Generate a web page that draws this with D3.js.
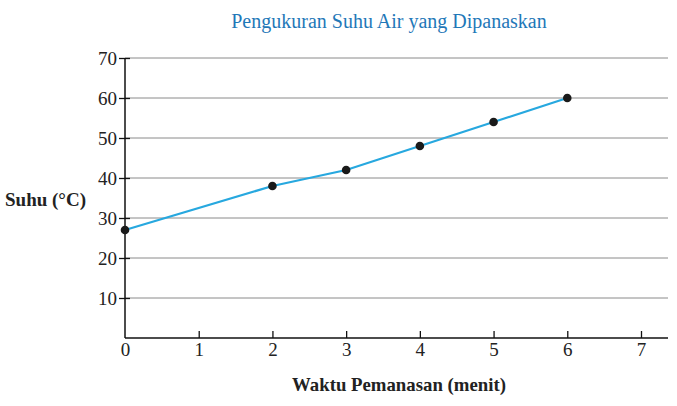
<!DOCTYPE html>
<html><head><meta charset="utf-8">
<script src="https://cdn.jsdelivr.net/npm/d3@7"></script>
<style>body{margin:0;background:#fff}svg{display:block}
svg text{font-family:"Liberation Serif","DejaVu Serif",serif}</style>
</head><body>
<svg id="c" width="677" height="406"></svg>
<script>
const times = [0, 2, 3, 4, 5, 6];
const temps = [27, 38, 42, 48, 54, 60];
const xTicks = [0, 1, 2, 3, 4, 5, 6, 7];
const yTicks = [10, 20, 30, 40, 50, 60, 70];

const svg = d3.select("#c");
const x = d3.scaleLinear().domain([0, 7]).range([125, 641]);
const y = d3.scaleLinear().domain([0, 70]).range([338, 58]);

// gridlines
svg.append("g").selectAll("line").data(yTicks).join("line")
  .attr("x1", 125).attr("x2", 668)
  .attr("y1", d => y(d)).attr("y2", d => y(d))
  .attr("stroke", "#8a8a8a").attr("stroke-width", 1);

// y axis
const ya = svg.append("g").attr("transform", "translate(125,0)")
  .call(d3.axisLeft(y).tickValues(yTicks).tickFormat(d3.format("d")).tickSize(7).tickPadding(4));
ya.attr("font-family", null).attr("font-size", null);
ya.select(".domain").attr("d", `M0,${y(70)}V${y(0)}`).attr("stroke", "#111").attr("stroke-width", 1.5);
ya.selectAll(".tick line").attr("x2", 5).attr("x1", -6).attr("stroke", "#111").attr("stroke-width", 1.3);
ya.selectAll(".tick text").style("font-size", "19px").attr("fill", "#222").attr("x", -8);

// x axis
const xa = svg.append("g").attr("transform", `translate(0,${y(0)})`)
  .call(d3.axisBottom(x).tickValues(xTicks).tickFormat(d3.format("d")).tickSize(0).tickPadding(5));
xa.attr("font-family", null).attr("font-size", null);
xa.select(".domain").attr("d", `M125,0H668`).attr("stroke", "#111").attr("stroke-width", 1.5);
xa.selectAll(".tick line").attr("y1", -7).attr("y2", 0).attr("stroke", "#111").attr("stroke-width", 1.3)
  .filter(d => d === 0).remove();
xa.selectAll(".tick text").style("font-size", "19px").attr("fill", "#222");

// line
const pts = times.map((t, i) => [t, temps[i]]);
svg.append("path").datum(pts)
  .attr("d", d3.line().x(d => x(d[0])).y(d => y(d[1])))
  .attr("fill", "none").attr("stroke", "#27a8df").attr("stroke-width", 2.2);

svg.append("g").selectAll("circle").data(pts).join("circle")
  .attr("cx", d => x(d[0])).attr("cy", d => y(d[1])).attr("r", 4.3)
  .attr("fill", "#1a1a1a");

// title and labels
svg.append("text").attr("x", 389).attr("y", 28).attr("text-anchor", "middle")
  .style("font-size", "20px").attr("fill", "#1f78b8")
  .text("Pengukuran Suhu Air yang Dipanaskan");
svg.append("text").attr("x", 5).attr("y", 206)
  .style("font-size", "19px").attr("font-weight", "bold").attr("fill", "#222")
  .text("Suhu (°C)");
svg.append("text").attr("x", 399).attr("y", 391).attr("text-anchor", "middle")
  .style("font-size", "18.8px").attr("font-weight", "bold").attr("fill", "#222")
  .text("Waktu Pemanasan (menit)");
</script>
</body></html>
